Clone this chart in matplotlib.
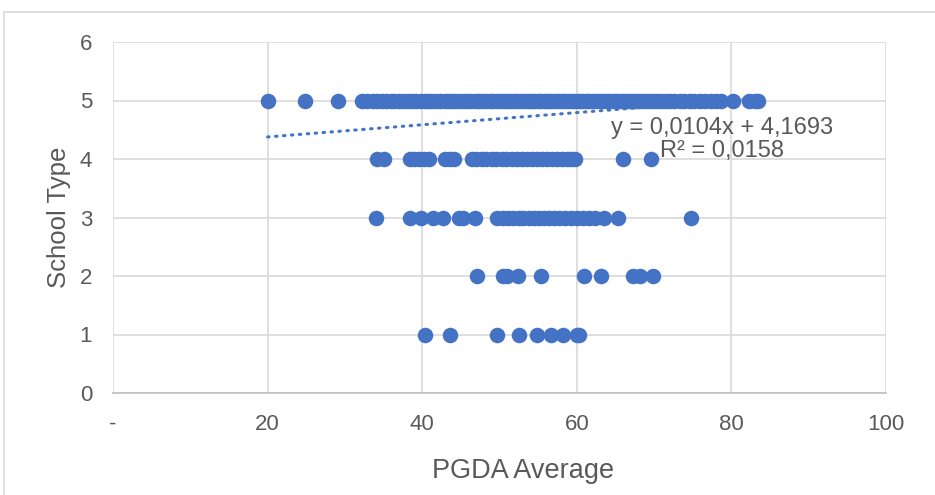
import matplotlib.pyplot as plt
from matplotlib.patches import Rectangle

plt.rcParams['font.family'] = ['Liberation Sans', 'DejaVu Sans']

# PGDA average per school, grouped by school type
pgda_type5 = [20.0, 24.8, 29.1, 32.2, 32.9, 33.6, 34.1, 34.8, 35.3, 35.9, 36.4,
              37.0, 37.6, 38.1, 38.7, 39.2, 39.8, 40.3, 40.7, 41.2, 41.8, 42.3,
              42.9, 43.4, 43.8, 44.3, 44.9, 45.4, 45.8, 46.3, 46.9, 47.4, 47.8,
              48.3, 48.8, 49.2, 49.7, 50.1, 50.6, 51.0, 51.5, 51.9, 52.3, 52.8,
              53.2, 53.7, 54.1, 54.5, 55.0, 55.4, 55.9, 56.3, 56.7, 57.2, 57.6,
              58.1, 58.5, 58.9, 59.4, 59.8, 60.3, 60.7, 61.2, 61.6, 62.1, 62.5,
              63.0, 63.4, 63.9, 64.3, 64.8, 65.2, 65.7, 66.1, 66.6, 67.0, 67.5,
              67.9, 68.4, 68.9, 69.3, 69.8, 70.4, 70.9, 71.5, 72.0, 72.6, 73.3,
              73.9, 74.6, 75.2, 75.9, 76.6, 77.3, 78.0, 78.6, 80.2, 82.3, 83.1,
              83.5]
pgda_type4 = [34.2, 35.1, 38.4, 39.0, 39.6, 40.2, 40.9, 43.0, 43.6, 44.1, 46.4,
              47.0, 47.7, 48.3, 49.0, 49.6, 50.3, 50.9, 51.6, 52.2, 52.9, 53.5,
              54.2, 54.8, 55.5, 56.1, 56.8, 57.4, 58.1, 58.7, 59.3, 59.8, 66.0,
              69.6]
pgda_type3 = [34.0, 38.4, 39.8, 41.4, 42.7, 44.7, 45.3, 46.8, 49.7, 50.4, 51.1,
              51.8, 52.5, 53.1, 53.8, 54.4, 55.1, 55.7, 56.4, 57.0, 57.7, 58.5,
              59.2, 60.0, 60.8, 61.6, 62.4, 63.5, 65.3, 74.8]
pgda_type2 = [47.1, 50.5, 51.0, 52.4, 55.4, 60.9, 63.1, 67.3, 68.2, 69.9]
pgda_type1 = [40.4, 43.6, 49.7, 52.5, 54.8, 56.7, 58.2, 60.0, 60.3]

school_types = [5, 4, 3, 2, 1]
groups = [pgda_type5, pgda_type4, pgda_type3, pgda_type2, pgda_type1]

# linear trendline shown on the chart
slope = 0.0104
intercept = 4.1693

xs, ys = [], []
for t, vals in zip(school_types, groups):
    xs += vals
    ys += [t] * len(vals)

fig = plt.figure(figsize=(9.35, 4.95), dpi=100)
ax = fig.add_axes([113 / 935, 1 - 393 / 495, 773 / 935, 351 / 495])

# chart area border
fig.patches.append(Rectangle((4 / 935, -0.05), 1.1, 1 - 12 / 495 + 0.05,
                             transform=fig.transFigure, fill=False,
                             edgecolor='#d9d9d9', linewidth=1.2))

blue = '#4472C4'
grey = '#595959'

ax.scatter(xs, ys, s=125, color=blue, linewidths=0, zorder=3)

x0, x1 = min(xs), max(xs)
ax.plot([x0, x1], [slope * x0 + intercept, slope * x1 + intercept],
        color=blue, linestyle=(0, (0.5, 2.1)), linewidth=2.2,
        dash_capstyle='round', zorder=4)

ax.text(78.8, 4.33, 'y = 0,0104x + 4,1693\nR² = 0,0158', fontsize=17,
        color=grey, ha='center', va='center', linespacing=1.05, zorder=5)

ax.set_xlim(0, 100)
ax.set_ylim(0, 6)
ax.set_xticks([0, 20, 40, 60, 80, 100])
ax.set_xticklabels(['-', '20', '40', '60', '80', '100'])
ax.set_yticks(range(7))

ax.grid(True, color='#d9d9d9', linewidth=1.2, zorder=0)
ax.set_axisbelow(True)
for side in ['top', 'right', 'left']:
    ax.spines[side].set_visible(False)
ax.spines['bottom'].set_color('#bfbfbf')
ax.spines['bottom'].set_linewidth(1.2)

ax.tick_params(axis='both', length=0, labelsize=16, labelcolor=grey)
ax.tick_params(axis='x', pad=15)
ax.tick_params(axis='y', pad=15)

ax.set_xlabel('PGDA Average', fontsize=19.5, color=grey)
ax.xaxis.set_label_coords(0.530, -0.185)
ax.set_ylabel('School Type', fontsize=18.5, color=grey, labelpad=6)

fig.savefig('out.png', dpi=100)
